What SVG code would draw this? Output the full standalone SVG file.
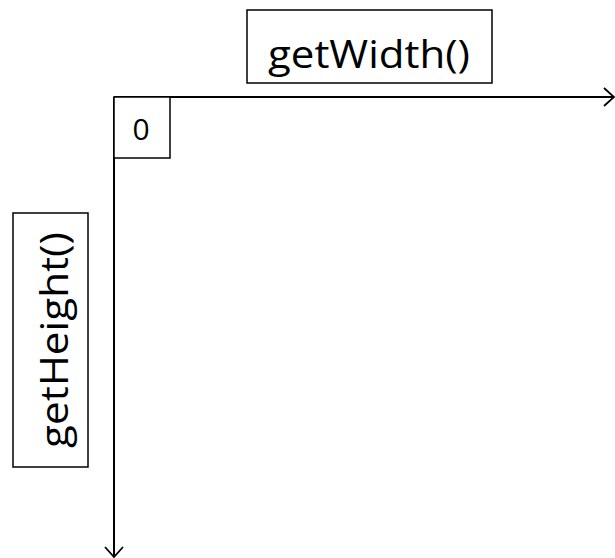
<svg xmlns="http://www.w3.org/2000/svg" width="615" height="558" viewBox="0 0 615 558">
<style>
.box{fill:#fff;stroke:#000;stroke-width:1.5}
.lbl{font-family:"Open Sans","Noto Sans",sans-serif;fill:#000}
.ax{fill:none;stroke:#000;stroke-width:2}
.ah{fill:none;stroke:#000;stroke-width:1.8}
</style>
<rect width="615" height="558" fill="#fff"/>
<g id="connectors">
<line class="ax" x1="114" y1="97" x2="614" y2="97"/>
<polyline class="ah" points="604,88 614,97 604,106"/>
<line class="ax" x1="114" y1="97" x2="114" y2="557"/>
<polyline class="ah" points="105,547 114,557 123,547"/>
</g>
<g id="width">
<rect class="box" x="247" y="10" width="245" height="73"/>
<text class="lbl" x="369" y="68" font-size="39" text-anchor="middle" textLength="202" lengthAdjust="spacingAndGlyphs">getWidth()</text>
</g>
<g id="origin">
<rect class="box" x="114" y="97" width="56" height="61"/>
<text class="lbl" x="141" y="140" font-size="30" text-anchor="middle">0</text>
</g>
<g id="height">
<rect class="box" x="13" y="213" width="75" height="254"/>
<text class="lbl" transform="translate(68,340) rotate(-90)" x="0" y="0" font-size="39" text-anchor="middle" textLength="216" lengthAdjust="spacingAndGlyphs">getHeight()</text>
</g>
</svg>
